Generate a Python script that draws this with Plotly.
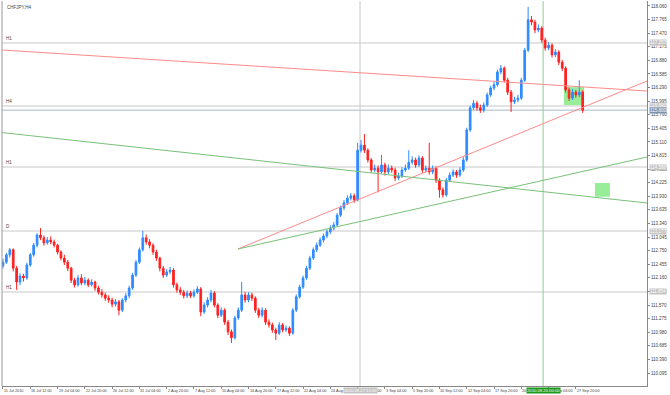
import plotly.graph_objects as go

# ---------------- data ----------------
bar_index = list(range(171))

opens = [
112.42,112.50,112.66,112.77,112.37,112.07,112.20,112.16,112.44,112.66,
112.87,113.09,113.03,112.92,112.98,112.94,112.87,112.72,112.59,112.50,
112.37,112.11,112.01,112.16,112.05,112.11,112.01,112.07,111.94,111.85,
111.79,111.72,111.68,111.59,111.64,111.46,111.68,111.77,111.94,112.22,
112.50,112.77,113.03,112.94,112.87,112.72,112.59,112.37,112.22,112.29,
112.33,112.01,111.90,111.85,111.77,111.83,111.77,111.85,111.92,111.42,
111.57,111.68,111.83,111.57,111.35,111.46,111.20,110.99,110.86,111.29,
111.46,111.79,111.68,111.79,111.72,111.46,111.35,111.46,111.20,111.14,
111.03,110.96,111.14,111.03,111.07,110.96,111.46,111.75,111.96,112.16,
112.37,112.59,112.77,112.87,112.98,113.07,113.16,113.24,113.31,113.52,
113.68,113.79,113.89,113.94,113.85,114.93,115.04,114.93,114.72,114.50,
114.54,114.46,114.61,114.46,114.54,114.50,114.33,114.37,114.50,114.54,
114.67,114.72,114.61,114.76,114.50,114.54,114.46,114.54,114.28,114.07,
113.96,114.28,114.39,114.46,114.39,114.50,114.72,115.37,115.85,115.95,
115.85,115.80,115.91,116.13,116.28,116.35,116.63,116.71,116.45,116.19,
115.98,116.02,116.06,116.45,117.10,117.76,117.71,117.54,117.58,117.32,
117.15,117.21,117.00,117.06,116.84,116.71,116.24,116.06,116.19,116.13,
116.19]

highs = [
112.58,112.70,112.81,112.80,112.42,112.26,112.25,112.49,112.70,112.92,
113.13,113.24,113.08,113.05,113.06,112.99,112.90,112.76,112.66,112.55,
112.40,112.16,112.22,112.24,112.18,112.15,112.13,112.10,111.99,111.92,
111.84,111.78,111.73,111.70,111.68,111.72,111.83,111.99,112.27,112.55,
112.82,113.18,113.10,113.00,112.91,112.77,112.62,112.42,112.35,112.40,
112.37,112.06,111.96,111.90,111.89,111.88,111.91,111.98,111.96,111.63,
111.74,111.90,111.87,111.61,111.52,111.50,111.25,111.04,111.34,111.52,
112.07,111.86,111.85,111.84,111.76,111.51,111.52,111.50,111.26,111.19,
111.08,111.20,111.18,111.13,111.11,111.50,111.80,112.01,112.21,112.42,
112.64,112.82,112.93,113.04,113.12,113.21,113.30,113.37,113.57,113.73,
113.85,113.95,114.00,113.99,115.09,115.15,115.28,114.97,114.76,114.62,
114.60,114.83,114.66,114.62,114.60,114.55,114.44,114.56,114.62,114.93,
114.80,114.77,114.82,114.80,114.60,115.09,114.60,114.58,114.32,114.12,
114.33,114.45,114.52,114.50,114.56,114.78,115.42,115.90,116.02,116.00,
115.92,115.97,116.18,116.33,116.42,116.68,116.78,116.75,116.50,116.24,
116.09,116.13,116.50,117.15,118.04,117.84,117.76,117.66,117.62,117.37,
117.28,117.25,117.12,117.10,116.89,116.75,116.29,116.26,116.24,116.45,
116.23]

lows = [
112.36,112.46,112.60,112.30,111.90,112.00,112.08,112.12,112.40,112.62,
112.82,112.98,112.86,112.88,112.89,112.82,112.67,112.54,112.44,112.31,
112.05,111.95,111.97,112.00,112.00,111.96,111.97,111.88,111.80,111.73,
111.66,111.62,111.52,111.54,111.35,111.42,111.63,111.72,111.90,112.18,
112.46,112.73,112.88,112.80,112.66,112.53,112.30,112.16,112.18,112.24,
111.95,111.84,111.79,111.71,111.72,111.72,111.73,111.81,111.33,111.38,
111.52,111.63,111.52,111.29,111.31,111.14,110.92,110.75,110.82,111.25,
111.42,111.62,111.63,111.66,111.40,111.29,111.30,111.14,111.08,110.97,
110.81,110.92,110.98,110.99,110.90,110.93,111.42,111.71,111.92,112.12,
112.33,112.55,112.72,112.83,112.93,113.02,113.11,113.19,113.27,113.48,
113.63,113.74,113.84,113.79,113.82,114.88,114.87,114.66,114.44,114.45,
114.02,114.42,114.38,114.41,114.44,114.26,114.28,114.33,114.46,114.50,
114.62,114.55,114.57,114.44,114.45,114.40,114.41,114.22,113.90,113.90,
113.92,114.24,114.35,114.33,114.35,114.46,114.68,115.33,115.80,115.79,
115.74,115.75,115.87,116.09,116.23,116.31,116.58,116.40,116.13,115.76,
115.93,115.97,116.02,116.41,117.06,117.64,117.47,117.49,117.26,117.09,
117.10,116.94,116.95,116.78,116.65,116.18,116.00,116.02,116.07,116.08,
115.74]

closes = [
112.50,112.66,112.77,112.37,112.07,112.20,112.16,112.44,112.66,112.87,
113.09,113.03,112.92,112.98,112.94,112.87,112.72,112.59,112.50,112.37,
112.11,112.01,112.16,112.05,112.11,112.01,112.07,111.94,111.85,111.79,
111.72,111.68,111.59,111.64,111.46,111.68,111.77,111.94,112.22,112.50,
112.77,113.03,112.94,112.87,112.72,112.59,112.37,112.22,112.29,112.33,
112.01,111.90,111.85,111.77,111.83,111.77,111.85,111.92,111.42,111.57,
111.68,111.83,111.57,111.35,111.46,111.20,110.99,110.86,111.29,111.46,
111.79,111.68,111.79,111.72,111.46,111.35,111.46,111.20,111.14,111.03,
110.96,111.14,111.03,111.07,110.96,111.46,111.75,111.96,112.16,112.37,
112.59,112.77,112.87,112.98,113.07,113.16,113.24,113.31,113.52,113.68,
113.79,113.89,113.94,113.85,114.93,115.04,114.93,114.72,114.50,114.54,
114.46,114.61,114.46,114.54,114.50,114.33,114.37,114.50,114.54,114.67,
114.72,114.61,114.76,114.50,114.54,114.46,114.54,114.28,114.07,113.96,
114.28,114.39,114.46,114.39,114.50,114.72,115.37,115.85,115.95,115.85,
115.80,115.91,116.13,116.28,116.35,116.63,116.71,116.45,116.19,115.98,
116.02,116.06,116.45,117.10,117.76,117.71,117.54,117.58,117.32,117.15,
117.21,117.00,117.06,116.84,116.71,116.24,116.06,116.19,116.13,116.19,
115.80]

# horizontal levels
level_prices = [117.257, 115.890, 115.800, 114.566, 113.177, 111.854]
level_names = ["H1", "H4", "", "H1", "D", "H1"]

# trend lines (bar index, price)
red_fall_x = [-0.29, 188.86]
red_fall_y = [117.105, 116.215]
red_rise_x = [68.9, 188.86]
red_rise_y = [112.787, 116.432]
green_rise_x = [68.9, 188.86]
green_rise_y = [112.787, 114.783]
green_fall_x = [-0.29, 188.86]
green_fall_y = [115.313, 113.785]

# rectangles (bar from, bar to, price top, price bottom)
rect1 = [164.5, 170.4, 116.30, 115.91]
rect2 = [173.6, 178.0, 114.22, 113.92]

# vertical lines
vline_gray = 104.7
vline_green = 158.4
vline_gray_label = "2010.08.27 12:00"
vline_green_label = "2010.09.20 00:00"

# axis ticks
y_tick_vals = [round(110.095 + 0.295 * k, 3) for k in range(28)]
y_tick_text = ["%.3f" % v for v in y_tick_vals]
x_tick_pos = [0, 8, 16, 24, 32, 40, 48, 56, 64, 72, 80, 88, 96, 104, 112, 120,
              128, 136, 144, 152, 160, 168]
x_tick_text = ["11 Jul 2010", "16 Jul 12:00", "19 Jul 04:00", "22 Jul 20:00",
               "26 Jul 12:00", "31 Jul 04:00", "2 Aug 20:00", "7 Aug 12:00",
               "10 Aug 04:00", "14 Aug 20:00", "17 Aug 12:00", "22 Aug 04:00",
               "24 Aug 20:00", "29 Aug 12:00", "3 Sep 04:00", "5 Sep 20:00",
               "10 Sep 12:00", "12 Sep 04:00", "17 Sep 20:00", "20 Sep 12:00",
               "24 Sep 04:00", "27 Sep 20:00"]

title_text = "CHFJPY,H4"

# ---------------- figure ----------------
FONT = "Liberation Sans"
TXT = "#444444"
fig = go.Figure()

fig.add_trace(go.Candlestick(
    x=bar_index, open=opens, high=highs, low=lows, close=closes,
    increasing=dict(line=dict(color="#2E8BFF", width=1), fillcolor="#2E8BFF"),
    decreasing=dict(line=dict(color="#FF2020", width=1), fillcolor="#FF2020"),
    whiskerwidth=0, showlegend=False, hoverinfo="skip"))

for xs, ys, col in [(red_fall_x, red_fall_y, "#FF8A8A"),
                    (red_rise_x, red_rise_y, "#FF8A8A"),
                    (green_rise_x, green_rise_y, "#79C179"),
                    (green_fall_x, green_fall_y, "#79C179")]:
    fig.add_trace(go.Scatter(x=xs, y=ys, mode="lines",
                             line=dict(color=col, width=1),
                             showlegend=False, hoverinfo="skip"))

shapes = []
for p in level_prices:
    col = "#A8B8C8" if p == 115.800 else "#C8C8C8"
    shapes.append(dict(type="line", xref="paper", x0=0, x1=1, yref="y", y0=p, y1=p,
                       line=dict(color=col, width=1), layer="below"))
for r in (rect1, rect2):
    shapes.append(dict(type="rect", xref="x", yref="y", x0=r[0], x1=r[1], y0=r[3], y1=r[2],
                       fillcolor="#98EE98", line=dict(width=0), layer="below"))
shapes.append(dict(type="line", xref="x", x0=vline_gray, x1=vline_gray, yref="paper", y0=0, y1=1,
                   line=dict(color="#C8C8C8", width=1), layer="below"))
shapes.append(dict(type="line", xref="x", x0=vline_green, x1=vline_green, yref="paper", y0=0, y1=1,
                   line=dict(color="#8FCF8F", width=1), layer="below"))
shapes.append(dict(type="line", xref="paper", x0=0, x1=0, yref="paper", y0=0, y1=1,
                   line=dict(color="#999999", width=1)))

ann = []
ann.append(dict(text=title_text, xref="paper", yref="paper", x=0, y=1, xanchor="left",
                yanchor="top", xshift=3, yshift=-2, showarrow=False,
                font=dict(family=FONT, size=4.5, color=TXT)))
for p, n in zip(level_prices, level_names):
    if n:
        ann.append(dict(text=n, xref="paper", yref="y", x=0, y=p, xanchor="left",
                        yanchor="bottom", xshift=2, showarrow=False,
                        font=dict(family=FONT, size=4.5, color=TXT)))
    dark = (p == 115.800)
    ann.append(dict(text="%.3f" % p, xref="paper", yref="y", x=1, y=p, xanchor="left",
                    yanchor="middle", xshift=2, showarrow=False, borderpad=0,
                    bgcolor="#7F93AB" if dark else "#C4C4C4",
                    font=dict(family=FONT, size=4.5, color="#FFFFFF")))
for xp, t in zip(x_tick_pos, x_tick_text):
    ann.append(dict(text=t, xref="x", yref="paper", x=xp, y=0, xanchor="left",
                    yanchor="top", yshift=-1, xshift=-1, showarrow=False,
                    font=dict(family=FONT, size=3.8, color=TXT)))
ann.append(dict(text=vline_gray_label, xref="x", yref="paper", x=vline_gray, y=0,
                xanchor="center", yanchor="top", yshift=-1, showarrow=False, borderpad=0,
                bgcolor="#C4C4C4", font=dict(family=FONT, size=4.2, color="#FFFFFF")))
ann.append(dict(text=vline_green_label, xref="x", yref="paper", x=vline_green, y=0,
                xanchor="center", yanchor="top", yshift=-1, showarrow=False, borderpad=0,
                bgcolor="#1E9A1E", font=dict(family=FONT, size=4.2, color="#FFFFFF")))

fig.update_layout(
    width=670, height=395,
    margin=dict(l=2, r=23, t=1, b=9, autoexpand=False),
    paper_bgcolor="white", plot_bgcolor="white",
    shapes=shapes, annotations=ann,
    showlegend=False,
    xaxis=dict(range=[-0.29, 188.86], rangeslider=dict(visible=False), automargin=False,
               showgrid=False, zeroline=False, showline=True, linecolor="#888888",
               linewidth=1, ticks="outside", ticklen=2, tickcolor="#888888",
               tickvals=x_tick_pos, showticklabels=False),
    yaxis=dict(range=[109.814, 118.168], side="right", showgrid=False, zeroline=False,
               automargin=False,
               showline=True, linecolor="#888888", linewidth=1,
               ticks="outside", ticklen=2, tickcolor="#888888",
               tickvals=y_tick_vals, ticktext=y_tick_text,
               tickfont=dict(family=FONT, size=4.5, color=TXT)),
)

fig.write_html("out.html", config={"displayModeBar": False})

# remove the browser's default page margin so the figure sits at the window origin
with open("out.html", "r", encoding="utf-8") as fh:
    html = fh.read()
html = html.replace("<body>", '<body style="margin:0;padding:0;overflow:hidden">', 1)
with open("out.html", "w", encoding="utf-8") as fh:
    fh.write(html)
